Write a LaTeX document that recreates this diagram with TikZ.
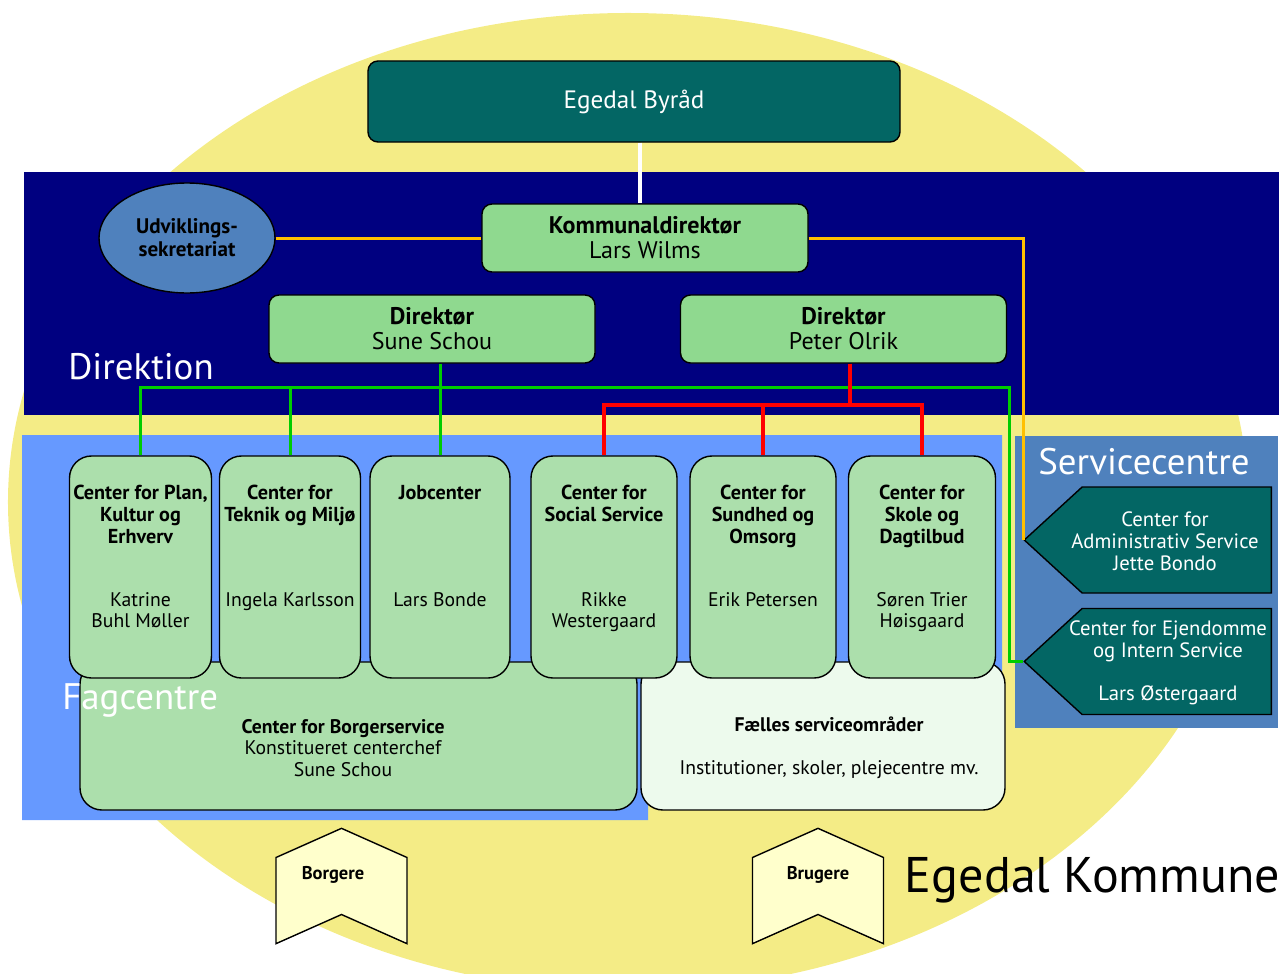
\documentclass[tikz,border=0pt]{standalone}
\usepackage{fontspec}
\setmainfont{PT Sans}
\usetikzlibrary{positioning,shapes.symbols,shapes.geometric}

\definecolor{kommunegul}{RGB}{244,236,134}
\definecolor{direktionblaa}{RGB}{0,0,128}
\definecolor{fagblaa}{RGB}{102,153,255}
\definecolor{serviceblaa}{RGB}{79,129,189}
\definecolor{byraadteal}{RGB}{3,102,100}
\definecolor{direktoergroen}{RGB}{143,217,143}
\definecolor{centergroen}{RGB}{172,223,172}
\definecolor{faellesgroen}{RGB}{237,250,237}
\definecolor{pilgul}{RGB}{255,255,204}
\definecolor{linjegul}{RGB}{255,192,0}
\definecolor{linjegroen}{RGB}{0,204,0}

\tikzset{
  boks/.style={draw=black, line width=0.8pt, inner sep=0pt, align=center},
  byraadboks/.style={boks, fill=byraadteal, rounded corners=2mm, text=white,
    minimum width=106.4mm, minimum height=16.2mm, font=\fontsize{14.3}{16}\selectfont},
  direktoerboks/.style={boks, fill=direktoergroen, rounded corners=2mm,
    minimum width=65.2mm, minimum height=13.6mm, font=\fontsize{13.7}{14.3}\selectfont},
  udvboble/.style={boks, ellipse, fill=serviceblaa, minimum width=35.2mm,
    minimum height=22mm, font=\bfseries\fontsize{12}{13}\selectfont},
  fagboks/.style={boks, fill=centergroen, rounded corners=4.4mm, minimum height=44.4mm},
  borgerboks/.style={boks, fill=centergroen, rounded corners=4.4mm,
    minimum width=111.4mm, minimum height=29.6mm},
  faellesboks/.style={boks, fill=faellesgroen, rounded corners=4.4mm,
    minimum width=72.8mm, minimum height=29.6mm},
  fagtitel/.style={anchor=north, inner sep=0pt, align=center,
    font=\bfseries\fontsize{11.5}{12.3}\selectfont},
  fagleder/.style={anchor=north, inner sep=0pt, align=center,
    font=\fontsize{11.2}{12.3}\selectfont},
  servicepil/.style={boks, shape=signal, signal to=west, signal from=nowhere,
    signal pointer angle=85, fill=byraadteal, minimum width=49.4mm, minimum height=21.2mm},
  servicetekst/.style={inner sep=0pt, align=center, text=white,
    font=\fontsize{11.8}{12.5}\selectfont},
  borgerpil/.style={boks, shape=signal, signal to=north, signal from=south,
    signal pointer angle=132, fill=pilgul, minimum width=26.2mm, minimum height=11.4mm},
  piltekst/.style={inner sep=0pt, font=\bfseries\fontsize{10.5}{11}\selectfont},
  omraadetekst/.style={inner sep=0pt, text=white, font=\fontsize{21}{24}\selectfont},
  hvidlinje/.style={draw=white, line width=0.7mm},
  gullinje/.style={draw=linjegul, line width=0.6mm},
  groenlinje/.style={draw=linjegroen, line width=0.6mm},
  roedlinje/.style={draw=red, line width=0.8mm}
}

\begin{document}
\begin{tikzpicture}[x=0.2mm,y=-0.2mm]
\useasboundingbox (0,0) rectangle (1280,974);
\fill[kommunegul] (628,502) ellipse [x radius=124mm, y radius=97.8mm];
\fill[direktionblaa] (24,172) rectangle (1279,415);
\fill[fagblaa] (22,435) -- (1002,435) -- (1002,680) -- (648,680) -- (648,820) -- (22,820) -- cycle;
\fill[serviceblaa] (1015,436) rectangle (1278,728);

\node[byraadboks] (byraad) at (634,101.5) {Egedal Byråd};
\node[direktoerboks] (kommunal) at (645,238) {\textbf{Kommunaldirektør}\\Lars Wilms};
\node[udvboble] (udv) at (187,238) {Udviklings-\\sekretariat};
\node[direktoerboks] (sune) at (432,329) {\textbf{Direktør}\\Sune Schou};
\node[direktoerboks] (olrik) at (843.5,329) {\textbf{Direktør}\\Peter Olrik};
\node[omraadetekst, anchor=west] (direktion) at (68,367) {Direktion};

\node[borgerboks] (borger) at (358.5,736) {};
\node[fagleder, anchor=center] (borger-tekst) at (343,748)
  {\textbf{Center for Borgerservice}\\Konstitueret centerchef\\Sune Schou};
\node[faellesboks] (faelles) at (823,736) {};
\node[fagleder, anchor=center] (faelles-tekst) at (829,748)
  {\textbf{Fælles serviceområder}\\[4.2mm]Institutioner, skoler, plejecentre mv.};

\foreach \navn/\x/\b/\titel/\leder in {
  plan/140.5/28.4/{Center for Plan,\\Kultur og\\Erhverv}/{Katrine\\Buhl Møller},
  teknik/290/28.2/{Center for\\Teknik og Miljø}/{Ingela Karlsson},
  job/440/28/{Jobcenter}/{Lars Bonde},
  social/604/29.2/{Center for\\Social Service}/{Rikke\\Westergaard},
  sundhed/763/29.2/{Center for\\Sundhed og\\Omsorg}/{Erik Petersen},
  skole/922/29.4/{Center for\\Skole og\\Dagtilbud}/{Søren Trier\\Høisgaard}}
{
  \node[fagboks, minimum width=\b mm] (\navn) at (\x,567) {};
  \node[fagtitel] (\navn-titel) at (\x,485) {\titel};
  \node[fagleder] (\navn-leder) at (\x,592) {\leder};
}
\node[omraadetekst, anchor=west] (fagcentre) at (62,700) {Fagcentre};

\node[omraadetekst] (servicecentre) at (1144,462) {Servicecentre};
\node[servicepil, anchor=east] (adm) at (1272,540) {};
\node[servicetekst] (adm-tekst) at (1165,541)
  {Center for\\Administrativ Service\\Jette Bondo};
\node[servicepil, anchor=east] (ejendom) at (1272,661.5) {};
\node[servicetekst] (ejendom-tekst) at (1168,663)
  {Center for Ejendomme\\og Intern Service\\[4.2mm]Lars Østergaard};

\node[borgerpil] (borgere) at (341.5,886) {};
\node[piltekst] (borgere-tekst) at (333,875) {Borgere};
\node[borgerpil] (brugere) at (818,886) {};
\node[piltekst] (brugere-tekst) at (818,875) {Brugere};
\node[inner sep=0pt, font=\fontsize{28.5}{32}\selectfont] (kommune) at (1092.5,880) {Egedal Kommune};

\coordinate (gronhjorne) at (1009,387);
\coordinate (roedknude) at (850,405);
\draw[hvidlinje] (byraad.south -| 640,0) -- (kommunal.north -| 640,0);
\draw[gullinje] (udv.east) -- (kommunal.west);
\draw[gullinje] (kommunal.east) -| (adm.west);
\draw[groenlinje] (job.north |- sune.south) -- (job.north);
\draw[groenlinje] (plan.north) |- (gronhjorne) |- (ejendom.west);
\draw[groenlinje] (teknik.north) -- (teknik.north |- gronhjorne);
\draw[roedlinje] (olrik.south -| roedknude) -- (roedknude);
\draw[roedlinje] (social.north) |- (roedknude) -| (skole.north);
\draw[roedlinje] (sundhed.north) -- (sundhed.north |- roedknude);
\end{tikzpicture}
\end{document}
